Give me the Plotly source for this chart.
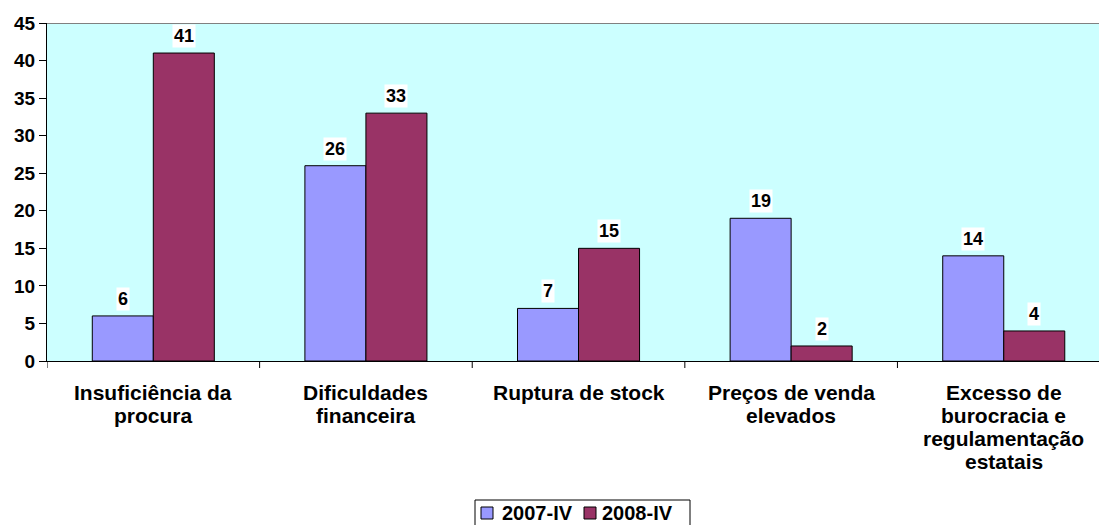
import plotly.graph_objects as go

categories = [["Insuficiência da", "procura"], ["Dificuldades", "financeira"], ["Ruptura de stock"],
              ["Preços de venda", "elevados"], ["Excesso de", "burocracia e", "regulamentação", "estatais"]]
s2007 = [6, 26, 7, 19, 14]
s2008 = [41, 33, 15, 2, 4]
series_names = ["2007-IV", "2008-IV"]
colors = ["#9999FF", "#993366"]
y_ticks = [0, 5, 10, 15, 20, 25, 30, 35, 40, 45]

FONT = "Liberation Sans, Arial, sans-serif"
W, H = 1099, 525
L, R, T, B = 47, 0, 23, 164
PW, PH = W - L - R, H - T - B


def px_x(px):
    return (px - L) / PW


def px_y(py):
    return (H - B - py) / PH


idx = list(range(len(categories)))
bw = 0.287

fig = go.Figure()
fig.add_trace(go.Bar(x=idx, y=s2007, name=series_names[0], width=bw, offset=-bw,
                     marker=dict(color=colors[0], line=dict(color="black", width=1))))
fig.add_trace(go.Bar(x=idx, y=s2008, name=series_names[1], width=bw, offset=0,
                     marker=dict(color=colors[1], line=dict(color="black", width=1))))

annotations = []
# value labels
for i in idx:
    for vals, off in ((s2007, -bw / 2), (s2008, bw / 2)):
        annotations.append(dict(x=i + off, y=vals[i], xref="x", yref="y", text="<b>%d</b>" % vals[i],
                                showarrow=False, yanchor="bottom", yshift=5, bgcolor="white",
                                borderpad=1, font=dict(family=FONT, size=18, color="black")))
# category labels
for i, lines in enumerate(categories):
    for k, line in enumerate(lines):
        annotations.append(dict(x=i, y=0, xref="x", yref="paper", text="<b>%s</b>" % line,
                                showarrow=False, yanchor="middle", yshift=-(31 + 23.3 * k),
                                font=dict(family=FONT, size=21, color="black")))
# legend texts
leg_text_x = [500, 600]
for name, tx in zip(series_names, leg_text_x):
    annotations.append(dict(x=px_x(tx), y=px_y(513), xref="paper", yref="paper", text="<b>%s</b>" % name,
                            showarrow=False, xanchor="left", yanchor="middle",
                            font=dict(family=FONT, size=20, color="black")))

shapes = [dict(type="line", xref="paper", yref="y", x0=0, x1=1, y0=45, y1=45,
               line=dict(color="#808080", width=2))]
for b in [-0.5, 0.5, 1.5, 2.5, 3.5]:
    shapes.append(dict(type="line", xref="x", yref="paper", x0=b, x1=b, y0=0, y1=-7 / PH,
                       line=dict(color="black", width=1)))
# legend box and swatches
shapes.append(dict(type="rect", xref="paper", yref="paper", x0=px_x(475), x1=px_x(690),
                   y0=px_y(527), y1=px_y(500), line=dict(color="black", width=1), fillcolor="white",
                   layer="below"))
for c, sx in zip(colors, [481, 584]):
    shapes.append(dict(type="rect", xref="paper", yref="paper", x0=px_x(sx), x1=px_x(sx + 12),
                       y0=px_y(519), y1=px_y(507), line=dict(color="black", width=1), fillcolor=c))

fig.update_layout(
    width=W, height=H,
    margin=dict(l=L, r=R, t=T, b=B),
    plot_bgcolor="#CCFFFF", paper_bgcolor="white",
    font=dict(family=FONT, size=16, color="black"),
    barmode="overlay",
    showlegend=False,
    hovermode=False,
    annotations=annotations,
    shapes=shapes,
)

fig.update_xaxes(
    tickmode="array", tickvals=idx, ticktext=["" for _ in idx], automargin=False,
    range=[-0.5, 4.448], showgrid=False, zeroline=False,
    showline=True, linecolor="black", linewidth=1, ticks="",
)

fig.update_yaxes(
    range=[0, 45], tickvals=y_ticks, ticktext=["<b>%d</b>" % v for v in y_ticks], automargin=False,
    showgrid=False, zeroline=False, showline=True, linecolor="black", linewidth=1,
    ticks="outside", ticklen=7, tickcolor="black",
    tickfont=dict(family=FONT, size=19, color="black"),
)

fig.write_html("out.html", config={"displayModeBar": False},
               post_script="document.body.style.margin='0';document.body.style.overflow='hidden';")
